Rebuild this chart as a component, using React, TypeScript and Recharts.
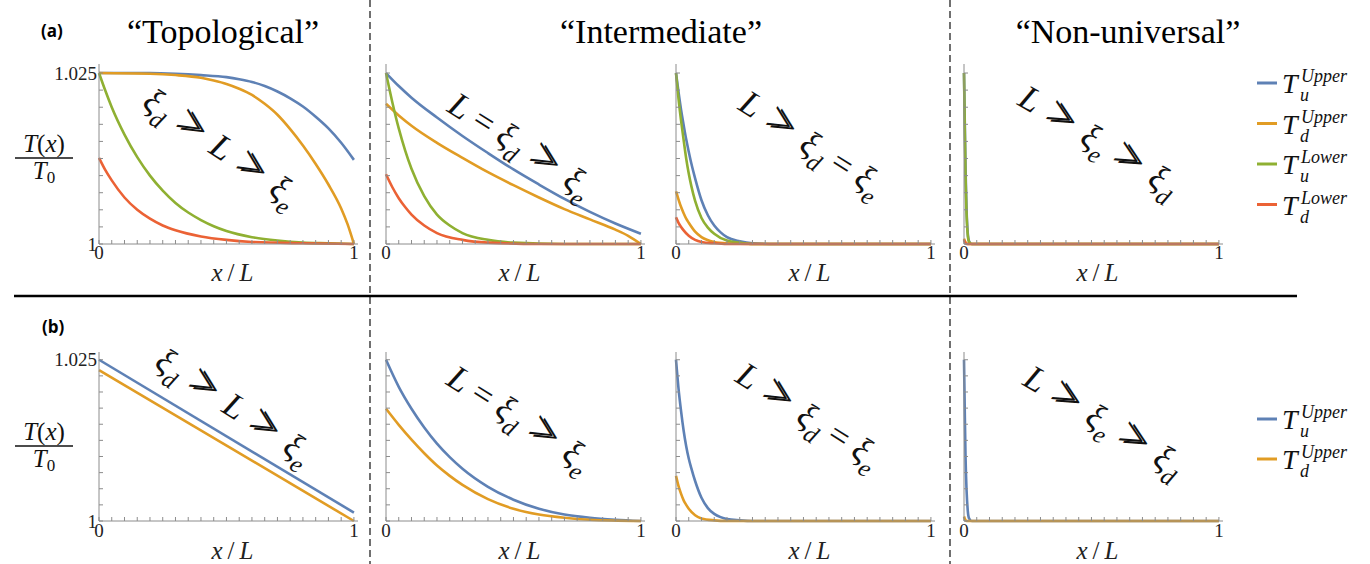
import React from 'react';
import { LineChart, Line, XAxis, YAxis } from 'recharts';

type P = [number, number];

// ---------- colours ----------
const C_UU = '#5E81B5';
const C_DU = '#E19C24';
const C_UL = '#8FB032';
const C_DL = '#EB6235';

// ---------- data: (a) Topological ----------
const topoUu: P[] = [[0,1.025],[0.2,1.025],[0.3,1.0249],[0.4,1.0247],[0.5,1.0244],[0.55,1.0241],[0.6,1.0237],[0.65,1.0231],[0.7,1.0223],[0.75,1.0213],[0.8,1.0201],[0.85,1.0186],[0.9,1.0169],[0.95,1.0148],[1,1.0123]];
const topoDu: P[] = [[0,1.025],[0.2,1.0249],[0.3,1.0247],[0.4,1.0243],[0.45,1.0239],[0.5,1.0234],[0.55,1.0227],[0.6,1.0218],[0.65,1.0205],[0.7,1.0189],[0.75,1.0168],[0.8,1.0144],[0.85,1.0117],[0.9,1.0087],[0.95,1.0052],[0.975,1.0029],[1,1.0]];
const topoUl: P[] = [[0,1.025],[0.025,1.0224],[0.05,1.02],[0.1,1.016],[0.15,1.0127],[0.2,1.01],[0.25,1.0078],[0.3,1.006],[0.35,1.0046],[0.4,1.0035],[0.45,1.0026],[0.5,1.0019],[0.6,1.001],[0.7,1.0005],[0.8,1.0002],[0.9,1.0001],[1,1.0]];
const topoDl: P[] = [[0,1.0126],[0.025,1.0108],[0.05,1.0093],[0.1,1.0068],[0.15,1.005],[0.2,1.0037],[0.25,1.0027],[0.3,1.002],[0.4,1.0011],[0.5,1.0006],[0.6,1.0003],[0.8,1.0001],[1,1.0]];

// ---------- data: (a) Intermediate, L = xi_d >> xi_e ----------
const im1Uu: P[] = [[0,1.025],[0.05,1.0231],[0.1,1.0214],[0.2,1.0185],[0.3,1.0158],[0.4,1.0133],[0.5,1.0109],[0.6,1.0087],[0.7,1.0066],[0.8,1.0047],[0.9,1.003],[1,1.0015]];
const im1Du: P[] = [[0,1.0205],[0.05,1.0188],[0.1,1.0173],[0.2,1.0148],[0.3,1.0126],[0.4,1.0105],[0.5,1.0086],[0.6,1.0068],[0.7,1.0051],[0.8,1.0036],[0.9,1.0021],[0.95,1.0012],[1,1.0]];
const im1Ul: P[] = [[0,1.025],[0.025,1.0207],[0.05,1.0169],[0.075,1.0137],[0.1,1.011],[0.15,1.007],[0.2,1.0043],[0.25,1.0027],[0.3,1.0016],[0.4,1.0006],[0.5,1.0002],[0.7,1.0],[1,1.0]];
const im1Dl: P[] = [[0,1.0102],[0.025,1.0083],[0.05,1.0067],[0.075,1.0054],[0.1,1.0043],[0.15,1.0027],[0.2,1.0016],[0.3,1.0006],[0.4,1.0002],[0.6,1.0],[1,1.0]];

// ---------- data: (a) Intermediate, L >> xi_d = xi_e ----------
const im2Uu: P[] = [[0,1.025],[0.01,1.0222],[0.02,1.0196],[0.03,1.0174],[0.04,1.0153],[0.05,1.0135],[0.06,1.0118],[0.075,1.0096],[0.1,1.0064],[0.125,1.0042],[0.15,1.0027],[0.175,1.0017],[0.2,1.001],[0.25,1.0004],[0.3,1.0001],[0.4,1.0],[1,1.0]];
const im2Ul: P[] = [[0,1.025],[0.01,1.0212],[0.02,1.018],[0.03,1.0152],[0.04,1.0125],[0.05,1.0103],[0.06,1.0085],[0.075,1.0063],[0.1,1.0038],[0.125,1.0024],[0.15,1.0015],[0.2,1.0005],[0.25,1.0002],[0.3,1.0],[1,1.0]];
const im2Du: P[] = [[0,1.0077],[0.01,1.0065],[0.02,1.0054],[0.03,1.0045],[0.04,1.0037],[0.05,1.0031],[0.075,1.0018],[0.1,1.001],[0.15,1.0003],[0.2,1.0001],[0.3,1.0],[1,1.0]];
const im2Dl: P[] = [[0,1.0039],[0.01,1.0031],[0.02,1.0025],[0.03,1.002],[0.05,1.0012],[0.075,1.0006],[0.1,1.0003],[0.15,1.0001],[0.2,1.0],[1,1.0]];

// ---------- data: (a) Non-universal ----------
const nuUu: P[] = [[0,1.025],[0.003,1.018],[0.006,1.011],[0.01,1.005],[0.015,1.0015],[0.02,1.0004],[0.03,1.0],[1,1.0]];
const nuUl: P[] = [[0,1.025],[0.003,1.017],[0.006,1.01],[0.01,1.0045],[0.015,1.0012],[0.02,1.0003],[0.03,1.0],[1,1.0]];
const nuDu: P[] = [[0,1.0008],[0.005,1.0003],[0.01,1.0001],[0.02,1.0],[1,1.0]];
const nuDl: P[] = [[0,1.0006],[0.005,1.0002],[0.01,1.0],[1,1.0]];

// ---------- data: (b) ----------
const bTopoUu: P[] = [[0,1.025],[1,1.0013]];
const bTopoDu: P[] = [[0,1.0234],[1,1.0]];
const bIm1Uu: P[] = [[0,1.025],[0.05,1.0208],[0.1,1.0174],[0.15,1.0145],[0.2,1.012],[0.25,1.0099],[0.3,1.0081],[0.4,1.0053],[0.5,1.0033],[0.6,1.0019],[0.7,1.001],[0.8,1.0005],[0.9,1.0002],[1,1.0]];
const bIm1Du: P[] = [[0,1.0174],[0.05,1.0149],[0.1,1.0126],[0.15,1.0105],[0.2,1.0086],[0.25,1.007],[0.3,1.0056],[0.4,1.0034],[0.5,1.0019],[0.6,1.001],[0.7,1.0005],[0.8,1.0002],[1,1.0]];
const bIm2Uu: P[] = [[0,1.025],[0.01,1.0205],[0.02,1.017],[0.03,1.014],[0.04,1.0116],[0.05,1.0097],[0.06,1.0082],[0.075,1.0062],[0.1,1.0036],[0.125,1.002],[0.15,1.0011],[0.175,1.0006],[0.2,1.0003],[0.25,1.0001],[0.3,1.0],[1,1.0]];
const bIm2Du: P[] = [[0,1.007],[0.01,1.0054],[0.02,1.0042],[0.03,1.0032],[0.04,1.0025],[0.05,1.0019],[0.075,1.0009],[0.1,1.0004],[0.15,1.0001],[0.2,1.0],[1,1.0]];
const bNuUu: P[] = [[0,1.025],[0.003,1.017],[0.006,1.01],[0.01,1.0048],[0.015,1.0015],[0.02,1.0004],[0.03,1.0],[1,1.0]];
const bNuDu: P[] = [[0,1.0007],[0.005,1.0002],[0.01,1.0],[1,1.0]];

// ---------- ticks / labels ----------
const X_TICKS = [0,0.05,0.1,0.15,0.2,0.25,0.3,0.35,0.4,0.45,0.5,0.55,0.6,0.65,0.7,0.75,0.8,0.85,0.9,0.95,1];
const X_LABELED = [0, 1];
const Y_TICKS = [1,1.0025,1.005,1.0075,1.01,1.0125,1.015,1.0175,1.02,1.0225,1.025];
const Y_LABELED = [1, 1.025];
const TITLES = ['\u201CTopological\u201D', '\u201CIntermediate\u201D', '\u201CNon-universal\u201D'];
const LEGEND_A = [
  { sub: 'u', sup: 'Upper', color: C_UU },
  { sub: 'd', sup: 'Upper', color: C_DU },
  { sub: 'u', sup: 'Lower', color: C_UL },
  { sub: 'd', sup: 'Lower', color: C_DL },
];
const LEGEND_B = LEGEND_A.slice(0, 2);

type Seg = { t: string; i?: boolean; sub?: boolean; gg?: boolean };
const GG: Seg = { t: '\u226B', gg: true };
const EQ: Seg = { t: ' = ' };
const XI: Seg = { t: '\u03BE', i: true };
const LL: Seg = { t: 'L', i: true };
const sb = (t: string): Seg => ({ t, i: true, sub: true });
const ANN_TOPO: Seg[] = [XI, sb('d'), GG, LL, GG, XI, sb('e')];
const ANN_IM1: Seg[] = [LL, EQ, XI, sb('d'), GG, XI, sb('e')];
const ANN_IM2: Seg[] = [LL, GG, XI, sb('d'), EQ, XI, sb('e')];
const ANN_NU: Seg[] = [LL, GG, XI, sb('e'), GG, XI, sb('d')];

// ---------- layout ----------
const SERIF = "'Liberation Serif','DejaVu Serif',serif";
const AXIS = '#8c8c8c';
const COL_X0 = [99, 386, 676, 964];
const X_MAX = 1.016;
const PLOT_W = 259;
const M = { top: 10, right: 10, bottom: 49, left: 94 };
const CHART_W = M.left + 1 + PLOT_W + M.right;
const ROW_A = { top: 64, bottom: 244, yMax: 1.02632, tickDy: 15, labelDy: 37 };
const ROW_B = { top: 352, bottom: 521, yMax: 1.0262, tickDy: 16, labelDy: 38 };

const rows = (pts: P[]) => pts.map(([x, y]) => ({ x, y }));

function XTick(props: any) {
  const { x, y, payload, tickDy, labelDy, axisY } = props;
  const v = payload.value;
  const ay = axisY ?? y;
  return (
    <g>
      <line x1={x} y1={ay} x2={x} y2={ay - 4} stroke={AXIS} strokeWidth={1} />
      {X_LABELED.includes(v) && (
        <text x={x} y={ay + tickDy} textAnchor="middle" fontFamily={SERIF} fontSize={19} fill="#222">{String(v)}</text>
      )}
      {v === 0.5 && (
        <text x={x + 6} y={ay + labelDy} textAnchor="middle" fontFamily={SERIF} fontSize={25} fill="#222">
          <tspan fontStyle="italic">x</tspan>
          <tspan>{'\u2009/\u2009'}</tspan>
          <tspan fontStyle="italic">L</tspan>
        </text>
      )}
    </g>
  );
}

function YTick(props: any) {
  const { x, y, payload, show } = props;
  const v = payload.value;
  return (
    <g>
      <line x1={x} y1={y} x2={x + 4} y2={y} stroke={AXIS} strokeWidth={1} />
      {show && Y_LABELED.includes(v) && (
        <text x={x - 2} y={y + 6.5} textAnchor="end" fontFamily={SERIF} fontSize={19} fill="#222">{String(v)}</text>
      )}
    </g>
  );
}

type S = { pts: P[]; color: string };

function Panel({ col, row, series }: { col: number; row: typeof ROW_A; series: S[] }) {
  const left = COL_X0[col] - M.left - 1;
  const top = row.top - M.top;
  const h = M.top + (row.bottom - row.top) + 1 + M.bottom;
  const axisY = M.top + (row.bottom - row.top);
  return (
    <div style={{ position: 'absolute', left, top, width: CHART_W, height: h }}>
      <LineChart width={CHART_W} height={h} margin={M}>
        <XAxis type="number" dataKey="x" domain={[0, X_MAX]} ticks={X_TICKS} interval={0} height={1}
          tickSize={0} tickMargin={0} tickLine={false} axisLine={{ stroke: AXIS, strokeWidth: 1 }}
          tick={<XTick tickDy={row.tickDy} labelDy={row.labelDy} axisY={axisY} />} />
        <YAxis type="number" domain={[1, row.yMax]} ticks={Y_TICKS} interval={0} width={1}
          tickSize={0} tickMargin={0} tickLine={false} axisLine={{ stroke: AXIS, strokeWidth: 1 }}
          tick={<YTick show={col === 0} />} />
        {series.map((s, i) => (
          <Line key={i} data={rows(s.pts)} dataKey="y" type="monotone" stroke={s.color}
            strokeWidth={2.6} dot={false} activeDot={false} isAnimationActive={false} />
        ))}
      </LineChart>
    </div>
  );
}

function MathText({ segs, x, y, angle, size }: { segs: Seg[]; x: number; y: number; angle: number; size: number }) {
  const shift = size * 0.3;
  const gSize = size * 1.3;
  const gAdv = 0.564 * gSize;
  const parts: { t: string; i?: boolean; fs: number; dy: number; dx: number }[] = [];
  let prevSub = false;
  segs.forEach((s) => {
    let dy = 0;
    if (s.sub && !prevSub) dy = shift;
    if (!s.sub && prevSub) dy = -shift;
    prevSub = !!s.sub;
    if (s.gg) {
      parts.push({ t: ' >', fs: gSize, dy: dy + size * 0.06, dx: 0 });
      parts.push({ t: '> ', fs: gSize, dy: 0, dx: -(gAdv - 5) });
      parts.push({ t: '', fs: size, dy: -size * 0.06, dx: 0 });
    } else {
      parts.push({ t: s.t, i: s.i, fs: s.sub ? size * 0.7 : size, dy, dx: 0 });
    }
  });
  return (
    <text transform={`translate(${x},${y}) rotate(${angle})`} textAnchor="middle" fontFamily={SERIF}
      fontSize={size} fill="#111" style={{ whiteSpace: 'pre' }}>
      {parts.map((p, i) => (
        <tspan key={i} dy={p.dy} dx={p.dx} fontStyle={p.i ? 'italic' : 'normal'} fontSize={p.fs}>{p.t}</tspan>
      ))}
    </text>
  );
}

function LegendItem({ x, y, sub, sup, color }: { x: number; y: number; sub: string; sup: string; color: string }) {
  return (
    <g>
      <line x1={x} y1={y} x2={x + 20} y2={y} stroke={color} strokeWidth={3} />
      <text x={x + 25} y={y + 10} fontFamily={SERIF} fontSize={28} fontStyle="italic" fill="#111">
        <tspan>T</tspan>
        <tspan x={x + 44} dy={-11} fontSize={18}>{sup}</tspan>
        <tspan x={x + 43} dy={19} fontSize={18}>{sub}</tspan>
      </text>
    </g>
  );
}

function Fraction({ cx, base }: { cx: number; base: number }) {
  return (
    <g fontFamily={SERIF} fill="#111">
      <text x={cx} y={base} textAnchor="middle" fontSize={25}>
        <tspan fontStyle="italic">T</tspan><tspan>(</tspan><tspan fontStyle="italic">x</tspan><tspan>)</tspan>
      </text>
      <line x1={cx - 29} y1={base + 6} x2={cx + 29} y2={base + 6} stroke="#111" strokeWidth={1.3} />
      <text x={cx} y={base + 27} textAnchor="middle" fontSize={25}>
        <tspan fontStyle="italic">T</tspan><tspan fontSize={17} dy={4}>0</tspan>
      </text>
    </g>
  );
}

function Overlay() {
  return (
    <svg width={1370} height={564} style={{ position: 'absolute', left: 0, top: 0, pointerEvents: 'none' }}>
      <line x1={370} y1={0} x2={370} y2={564} stroke="#111" strokeWidth={1.2} strokeDasharray="7 4" />
      <line x1={950} y1={0} x2={950} y2={564} stroke="#111" strokeWidth={1.2} strokeDasharray="7 4" />
      <line x1={14} y1={296} x2={1297} y2={296} stroke="#000" strokeWidth={2.5} />

      <text x={41} y={37} fontFamily="'Open Sans','Liberation Sans',sans-serif" fontWeight="bold" fontSize={17} fill="#000">(a)</text>
      <text x={42} y={333} fontFamily="'Open Sans','Liberation Sans',sans-serif" fontWeight="bold" fontSize={17} fill="#000">(b)</text>

      <text x={223} y={43} textAnchor="middle" fontFamily={SERIF} fontSize={34} fill="#000">{TITLES[0]}</text>
      <text x={661} y={43} textAnchor="middle" fontFamily={SERIF} fontSize={34} fill="#000">{TITLES[1]}</text>
      <text x={1128} y={43} textAnchor="middle" fontFamily={SERIF} fontSize={34} fill="#000">{TITLES[2]}</text>

      <Fraction cx={44} base={152} />
      <Fraction cx={44} base={440} />

      <MathText segs={ANN_TOPO} x={216} y={155} angle={33} size={35} />
      <MathText segs={ANN_IM1} x={515} y={154} angle={32} size={35} />
      <MathText segs={ANN_IM2} x={806} y={152} angle={32} size={35} />
      <MathText segs={ANN_NU} x={1094} y={149} angle={30} size={35} />
      <MathText segs={ANN_TOPO} x={229} y={414} angle={32} size={35} />
      <MathText segs={ANN_IM1} x={514} y={427} angle={32} size={35} />
      <MathText segs={ANN_IM2} x={803} y={424} angle={32} size={35} />
      <MathText segs={ANN_NU} x={1099} y={429} angle={30} size={35} />

      {LEGEND_A.map((e, i) => (
        <LegendItem key={'a' + i} x={1257} y={83 + i * 40.5} sub={e.sub} sup={e.sup} color={e.color} />
      ))}
      {LEGEND_B.map((e, i) => (
        <LegendItem key={'b' + i} x={1257} y={419 + i * 40} sub={e.sub} sup={e.sup} color={e.color} />
      ))}
    </svg>
  );
}

export default function App() {
  return (
    <div style={{ position: 'absolute', left: 0, top: 0, width: 1370, height: 564, background: '#fff', overflow: 'hidden' }}>
      <Panel col={0} row={ROW_A} series={[{ pts: topoUu, color: C_UU }, { pts: topoDu, color: C_DU }, { pts: topoUl, color: C_UL }, { pts: topoDl, color: C_DL }]} />
      <Panel col={1} row={ROW_A} series={[{ pts: im1Uu, color: C_UU }, { pts: im1Du, color: C_DU }, { pts: im1Ul, color: C_UL }, { pts: im1Dl, color: C_DL }]} />
      <Panel col={2} row={ROW_A} series={[{ pts: im2Uu, color: C_UU }, { pts: im2Du, color: C_DU }, { pts: im2Ul, color: C_UL }, { pts: im2Dl, color: C_DL }]} />
      <Panel col={3} row={ROW_A} series={[{ pts: nuUu, color: C_UU }, { pts: nuDu, color: C_DU }, { pts: nuUl, color: C_UL }, { pts: nuDl, color: C_DL }]} />
      <Panel col={0} row={ROW_B} series={[{ pts: bTopoUu, color: C_UU }, { pts: bTopoDu, color: C_DU }]} />
      <Panel col={1} row={ROW_B} series={[{ pts: bIm1Uu, color: C_UU }, { pts: bIm1Du, color: C_DU }]} />
      <Panel col={2} row={ROW_B} series={[{ pts: bIm2Uu, color: C_UU }, { pts: bIm2Du, color: C_DU }]} />
      <Panel col={3} row={ROW_B} series={[{ pts: bNuUu, color: C_UU }, { pts: bNuDu, color: C_DU }]} />
      <Overlay />
    </div>
  );
}
